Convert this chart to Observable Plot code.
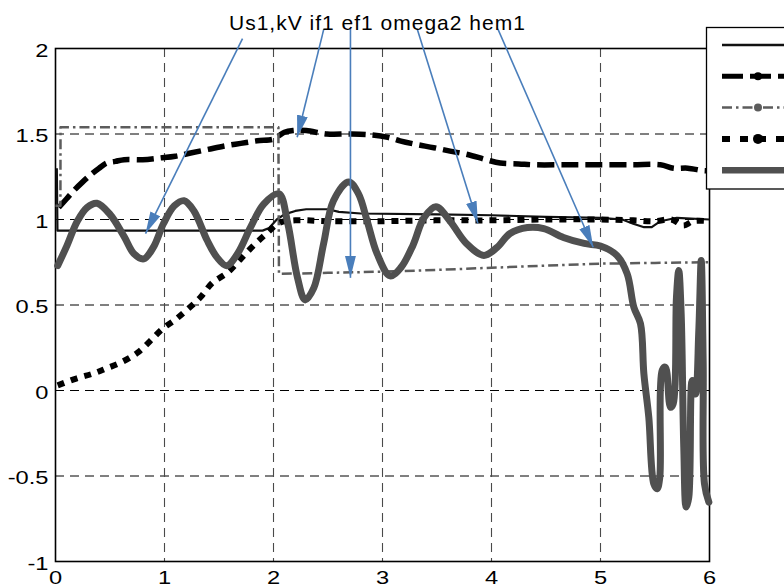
<!DOCTYPE html>
<html><head><meta charset="utf-8">
<script src="https://cdn.jsdelivr.net/npm/d3@7"></script>
<script src="https://cdn.jsdelivr.net/npm/@observablehq/plot@0.6"></script>
<style>
html,body{margin:0;padding:0;background:#fff;}
#chart{width:784px;height:587px;overflow:hidden;position:relative;}
svg{display:block;}
</style></head><body><div id="chart"></div>
<script>
// ---- data ----
const titleText = "Us1,kV if1 ef1 omega2 hem1";
const seriesNames = ["Us1,kV", "if1", "ef1", "omega2", "hem1"];
const xTicks = [0, 1, 2, 3, 4, 5, 6];
const yTicks = [-1, -0.5, 0, 0.5, 1, 1.5, 2];
const xGrid = [1, 2, 3, 4, 5];
const yGrid = [-0.5, 0, 0.5, 1, 1.5];

const us1T = [0.012, 0.018, 1.9, 1.96, 2.03, 2.1, 2.2, 2.3, 2.5, 2.6, 2.8, 3.5, 4.0, 4.5, 5.0, 5.2, 5.3, 5.4, 5.47, 5.55, 5.7, 6.0];
const us1V = [1.30, 0.935, 0.935, 0.95, 1.0, 1.03, 1.05, 1.06, 1.06, 1.045, 1.035, 1.03, 1.025, 1.015, 1.01, 1.0, 0.975, 0.955, 0.955, 0.99, 1.01, 1.0];

const if1T = [0.03, 0.1, 0.17, 0.25, 0.32, 0.4, 0.47, 0.55, 0.63, 0.8, 0.96, 1.1, 1.25, 1.4, 1.55, 1.7, 1.85, 2.0, 2.05, 2.1, 2.18, 2.3, 2.49, 2.7, 2.89, 3.05, 3.16, 3.3, 3.47, 3.62, 3.78, 3.95, 4.08, 4.25, 4.39, 4.7, 5.0, 5.3, 5.55, 5.67, 5.8, 5.95, 6.0];
const if1V = [1.07, 1.12, 1.17, 1.22, 1.26, 1.30, 1.33, 1.34, 1.35, 1.35, 1.36, 1.37, 1.39, 1.41, 1.43, 1.445, 1.46, 1.47, 1.49, 1.51, 1.52, 1.52, 1.50, 1.50, 1.495, 1.48, 1.46, 1.44, 1.42, 1.40, 1.38, 1.35, 1.33, 1.325, 1.32, 1.32, 1.32, 1.32, 1.32, 1.30, 1.30, 1.285, 1.285];

const ef1T = [0, 0.045, 0.046, 2.045, 2.05, 2.5, 3.0, 3.5, 4.0, 4.5, 5.0, 5.5, 6.0];
const ef1V = [1.08, 1.08, 1.54, 1.54, 0.682, 0.688, 0.695, 0.705, 0.718, 0.73, 0.742, 0.746, 0.75];

const omega2T = [0.02, 0.19, 0.35, 0.47, 0.62, 0.75, 0.87, 0.98, 1.1, 1.22, 1.33, 1.44, 1.58, 1.7, 1.82, 1.94, 2.05, 2.2, 2.5, 3.0, 3.5, 4.0, 4.5, 5.0, 5.3, 5.5, 5.65, 5.76, 5.85, 6.0];
const omega2V = [0.03, 0.07, 0.10, 0.13, 0.17, 0.22, 0.29, 0.36, 0.415, 0.48, 0.545, 0.63, 0.69, 0.77, 0.85, 0.92, 0.98, 0.995, 0.99, 0.99, 0.995, 0.995, 1.0, 1.0, 0.995, 0.99, 1.0, 0.965, 0.99, 0.99];

const hem1T = [0.02, 0.1, 0.2, 0.29, 0.38, 0.5, 0.63, 0.72, 0.81, 0.9, 0.99, 1.09, 1.18, 1.27, 1.39, 1.48, 1.57, 1.67, 1.79, 1.91, 2.05, 2.13, 2.22, 2.29, 2.37, 2.46, 2.55, 2.69, 2.78, 2.86, 2.95, 3.07, 3.17, 3.28, 3.38, 3.49, 3.62, 3.77, 3.93, 4.05, 4.17, 4.33, 4.48, 4.66, 4.85, 5.0, 5.15, 5.245, 5.306, 5.367, 5.398, 5.443, 5.489, 5.52, 5.544, 5.566, 5.596, 5.642, 5.667, 5.697, 5.718, 5.74, 5.764, 5.786, 5.81, 5.841, 5.872, 5.902, 5.924, 5.942, 5.954, 5.994];
const hem1V = [0.73, 0.84, 0.99, 1.07, 1.095, 1.03, 0.90, 0.80, 0.77, 0.84, 0.975, 1.08, 1.11, 1.05, 0.88, 0.78, 0.73, 0.80, 0.955, 1.09, 1.15, 0.98, 0.66, 0.53, 0.60, 0.86, 1.11, 1.22, 1.15, 0.99, 0.80, 0.67, 0.72, 0.85, 1.01, 1.075, 0.99, 0.86, 0.79, 0.836, 0.918, 0.953, 0.947, 0.895, 0.86, 0.845, 0.79, 0.682, 0.487, 0.39, 0.098, -0.156, -0.546, -0.575, -0.507, 0.117, 0.136, -0.098, -0.078, 0.546, 0.702, 0.45, -0.331, -0.682, -0.624, 0.058, -0.02, 0.351, 0.76, 0.158, -0.546, -0.653];

// annotation arrows: from title (t1,v1) to curve (t2,v2), in data units
const arrowFromT = [1.716, 2.462, 2.706, 3.318, 4.058];
const arrowFromV = [2.058, 2.115, 2.115, 2.115, 2.115];
const arrowToT = [0.826, 2.217, 2.706, 3.875, 4.933];
const arrowToV = [0.918, 1.481, 0.659, 0.978, 0.838];

// ---- styles ----
const styles = {
  "Us1,kV": {stroke: "#111", strokeWidth: 2.2, dash: null, curve: "linear", cap: "butt"},
  "if1":    {stroke: "#000", strokeWidth: 5.5, dash: "17,7", curve: "catmull-rom", cap: "butt"},
  "ef1":    {stroke: "#5c5c5c", strokeWidth: 2.5, dash: "10,4,2.5,4", curve: "linear", cap: "butt"},
  "omega2": {stroke: "#000", strokeWidth: 6, dash: "7,7", curve: "catmull-rom", cap: "butt"},
  "hem1":   {stroke: "#505050", strokeWidth: 7, dash: null, curve: "catmull-rom", cap: "round"}
};
const legendStyles = {
  "Us1,kV": {stroke: "#111", width: 2.5, dash: null, marker: null},
  "if1":    {stroke: "#000", width: 5, dash: "21,7", marker: {r: 4, fill: "#000"}},
  "ef1":    {stroke: "#5c5c5c", width: 2.5, dash: "10,4,2.5,4", marker: {r: 4, fill: "#5c5c5c"}},
  "omega2": {stroke: "#000", width: 6, dash: "8,10", marker: {r: 5, fill: "#000"}},
  "hem1":   {stroke: "#505050", width: 6.5, dash: null, marker: null}
};
const arrowColor = "#4a7ebb";
const fontFamily = "'Liberation Sans', Arial, sans-serif";

const seriesT = {"Us1,kV": us1T, "if1": if1T, "ef1": ef1T, "omega2": omega2T, "hem1": hem1T};
const seriesV = {"Us1,kV": us1V, "if1": if1V, "ef1": ef1V, "omega2": omega2V, "hem1": hem1V};
const table = name => seriesT[name].map((t, i) => ({t, v: seriesV[name][i]}));
const arrows = arrowFromT.map((_, i) => ({x1: arrowFromT[i], y1: arrowFromV[i], x2: arrowToT[i], y2: arrowToV[i]}));

const lineMarks = seriesNames.map(name => {
  const s = styles[name];
  const o = {x: "t", y: "v", stroke: s.stroke, strokeWidth: s.strokeWidth, curve: s.curve,
             strokeLinejoin: "round", strokeLinecap: s.cap};
  if (s.dash) o.strokeDasharray = s.dash;
  return Plot.line(table(name), o);
});

const plot = Plot.plot({
  width: 784, height: 587,
  marginLeft: 55, marginRight: 75, marginTop: 48, marginBottom: 26,
  style: {fontFamily, fontSize: "18.5px", color: "#000", background: "#fff", overflow: "visible"},
  x: {domain: [0, 6], ticks: xTicks, tickSize: 0, tickPadding: 9, tickFormat: d => String(d), label: null},
  y: {domain: [-1, 2], ticks: yTicks, tickSize: 0, tickPadding: 7, tickFormat: d => String(d), label: null},
  marks: [
    Plot.ruleY(yGrid, {stroke: "#000", strokeWidth: 1, strokeDasharray: "9,6"}),
    Plot.ruleX(xGrid, {stroke: "#4a4a4a", strokeWidth: 1.1, strokeDasharray: "9,6"}),
    Plot.frame({stroke: "#000", strokeWidth: 1.6}),
    ...lineMarks,
    Plot.link(arrows, {x1: "x1", y1: "y1", x2: "x2", y2: "y2", stroke: arrowColor, strokeWidth: 1.6})
  ]
});

document.getElementById("chart").appendChild(plot);
const svg = d3.select(plot);

// stretch tick labels horizontally like the reference
svg.selectAll('g[aria-label^="x-axis"] text').each(function() {
  const tr = this.getAttribute("transform") || "";
  this.setAttribute("transform", tr + " scale(1.28,1)");
});
svg.selectAll('g[aria-label^="y-axis"] text').each(function() {
  const tr = this.getAttribute("transform") || "";
  this.setAttribute("transform", tr + " translate(0,2.3) scale(1.28,1)");
});

// filled arrowheads
const defs = svg.insert("defs", ":first-child");
defs.append("marker").attr("id", "ahead")
  .attr("viewBox", "0 0 22 11").attr("refX", 22).attr("refY", 5.5)
  .attr("markerWidth", 22).attr("markerHeight", 11)
  .attr("markerUnits", "userSpaceOnUse").attr("orient", "auto")
  .append("path").attr("d", "M0,0L22,5.5L0,11Z").attr("fill", arrowColor);
svg.selectAll('g[aria-label="link"] path, g[aria-label="link"] line').attr("marker-end", "url(#ahead)");

// title
svg.append("text").text(titleText)
  .attr("x", 229).attr("y", 30).attr("text-anchor", "start")
  .attr("font-family", fontFamily)
  .attr("font-size", 21).attr("letter-spacing", 1).attr("fill", "#000");

// legend samples (box runs off the right edge, labels not visible, as in the reference)
const lg = svg.append("g");
lg.append("rect").attr("x", 706.5).attr("y", 27.5).attr("width", 140).attr("height", 161.5)
  .attr("fill", "#fff").attr("stroke", "#000").attr("stroke-width", 1.3);
seriesNames.forEach((name, i) => {
  const s = legendStyles[name];
  const y = 45 + i * 31.3;
  const ln = lg.append("line").attr("x1", 722).attr("x2", 800).attr("y1", y).attr("y2", y)
    .attr("stroke", s.stroke).attr("stroke-width", s.width);
  if (s.dash) ln.attr("stroke-dasharray", s.dash);
  if (s.marker) lg.append("circle").attr("cx", 758).attr("cy", y).attr("r", s.marker.r).attr("fill", s.marker.fill);
});
</script></body></html>
